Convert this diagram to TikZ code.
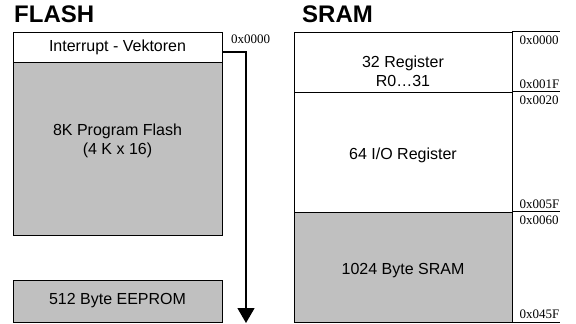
\documentclass[tikz,border=0pt]{standalone}
\usepackage{fontspec}
\setmainfont{Liberation Sans}
\newfontfamily\hexfont{Liberation Serif}
\usetikzlibrary{positioning,arrows.meta}
\definecolor{memgray}{HTML}{C0C0C0}

\begin{document}
\begin{tikzpicture}[x=1pt,y=-1pt,font=\fontsize{16}{19}\selectfont,
    mem/.style={draw=black,line width=0.9pt,inner sep=0pt,align=center},
    hex/.style={font=\hexfont\fontsize{13}{13}\selectfont,inner sep=0pt},
    title/.style={font=\bfseries\fontsize{24}{24}\selectfont,inner sep=0pt}]
\useasboundingbox (0,0) rectangle (576,324);
% FLASH
\node[title,anchor=base west] (flashttl) at (14,23) {FLASH};
\node[mem,fill=white,minimum width=209,minimum height=30] (intr) at (117.5,47) {Interrupt - Vektoren};
\node[mem,fill=memgray,minimum width=209,minimum height=173,
    label={[yshift=8pt,align=center]center:8K Program Flash\\(4 K x 16)}] (pflash) at (117.5,148.5) {};
\node[mem,fill=memgray,minimum width=209,minimum height=42] (eeprom) at (117.5,301) {512 Byte EEPROM};
\node[hex,anchor=base west] (fladdr) at (231,43) {0x0000};
\coordinate (tip) at (246,323);
\draw[line width=1.4pt,-{Triangle[length=15pt,width=17pt]}] ([yshift=-5pt]intr.east) -| (tip);
% SRAM
\node[title,anchor=base west] (sramttl) at (302,23) {SRAM};
\node[mem,minimum width=218,minimum height=60,
    label={[yshift=-9pt,align=center]center:32 Register\\R0…31}] (reg) at (403,62) {};
\node[mem,minimum width=218,minimum height=120,
    label={[yshift=-3pt]center:64 I/O Register}] (io) at (403,152) {};
\node[mem,fill=memgray,minimum width=218,minimum height=110,
    label={[yshift=-4pt]center:1024 Byte SRAM}] (sram) at (403,267) {};
% address lines
\foreach \n in {reg,io,sram}
{
    \draw[line width=0.9pt] (\n.north east) -- ++(48,0);
}
\draw[line width=0.9pt] (sram.south east) -- ++(48,0);
\foreach \n/\top/\bot in {reg/0x0000/0x001F,io/0x0020/0x005F,sram/0x0060/0x045F}
{
    \node[hex,anchor=north west] at ([xshift=7pt,yshift=-4pt]\n.north east) {\top};
    \node[hex,anchor=base west] at ([xshift=7pt,yshift=4pt]\n.south east) {\bot};
}
\end{tikzpicture}
\end{document}
